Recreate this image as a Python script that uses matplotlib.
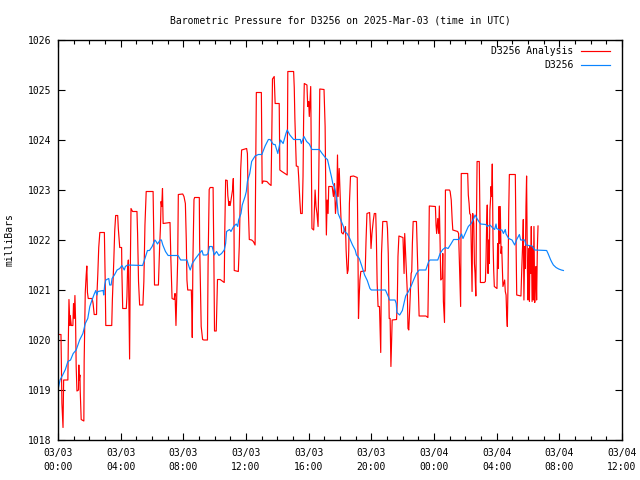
import matplotlib
matplotlib.use('Agg')
from matplotlib import pyplot as plt
import numpy as np

# hours since 2025-03-03 00:00 UTC and pressure (mb)
analysis_hours = [
    0.00, 0.19, 0.21, 0.25, 0.32, 0.36, 0.63, 0.66, 0.70, 0.76, 0.78, 0.85, 0.95, 0.99,
    1.04, 1.08, 1.12, 1.16, 1.21, 1.31, 1.33, 1.35, 1.40, 1.42, 1.48, 1.65, 1.67, 1.74,
    1.80, 1.84, 1.88, 1.93, 2.18, 2.24, 2.31, 2.46, 2.48, 2.54, 2.60, 2.67, 2.96, 3.01,
    3.05, 3.43, 3.47, 3.56, 3.62, 3.68, 3.81, 3.85, 3.94, 4.06, 4.08, 4.13, 4.36, 4.40,
    4.44, 4.49, 4.53, 4.57, 4.61, 4.66, 4.76, 5.04, 5.08, 5.14, 5.21, 5.42, 5.48, 5.55,
    5.63, 6.07, 6.12, 6.16, 6.41, 6.48, 6.54, 6.58, 6.62, 6.67, 6.71, 7.15, 7.20, 7.28,
    7.41, 7.47, 7.53, 7.58, 7.64, 7.68, 7.96, 8.04, 8.13, 8.19, 8.23, 8.28, 8.51, 8.55,
    8.57, 8.61, 8.68, 8.72, 9.02, 9.04, 9.10, 9.14, 9.23, 9.31, 9.54, 9.58, 9.65, 9.71,
    9.90, 9.95, 9.99, 10.10, 10.14, 10.18, 10.35, 10.61, 10.65, 10.70, 10.80, 10.84,
    10.91, 10.95, 10.99, 11.08, 11.14, 11.19, 11.23, 11.25, 11.51, 11.57, 11.62, 11.66,
    11.72, 12.04, 12.09, 12.15, 12.21, 12.36, 12.47, 12.58, 12.62, 12.66, 12.98, 13.03,
    13.11, 13.33, 13.48, 13.60, 13.65, 13.69, 13.80, 13.86, 14.12, 14.16, 14.29, 14.63,
    14.67, 15.04, 15.08, 15.12, 15.21, 15.32, 15.36, 15.44, 15.49, 15.59, 15.64, 15.68,
    15.72, 15.89, 15.94, 16.00, 16.04, 16.13, 16.17, 16.21, 16.32, 16.36, 16.41, 16.47,
    16.53, 16.60, 16.64, 16.71, 16.98, 17.05, 17.09, 17.13, 17.18, 17.24, 17.28, 17.50,
    17.58, 17.65, 17.71, 17.80, 17.84, 17.88, 17.95, 17.99, 18.05, 18.10, 18.20, 18.35,
    18.39, 18.43, 18.47, 18.52, 18.56, 18.60, 18.67, 18.86, 19.10, 19.14, 19.18, 19.23,
    19.27, 19.33, 19.61, 19.66, 19.72, 19.89, 19.94, 19.98, 20.04, 20.13, 20.19, 20.28,
    20.32, 20.37, 20.43, 20.52, 20.56, 20.60, 20.65, 20.73, 20.99, 21.03, 21.08, 21.14,
    21.20, 21.25, 21.29, 21.33, 21.61, 21.66, 21.70, 21.76, 22.02, 22.09, 22.13, 22.19,
    22.24, 22.30, 22.34, 22.39, 22.45, 22.54, 22.58, 22.62, 22.67, 22.88, 22.92, 23.01,
    23.05, 23.48, 23.61, 23.66, 23.70, 24.09, 24.13, 24.17, 24.24, 24.30, 24.34, 24.39,
    24.43, 24.52, 24.56, 24.60, 24.67, 24.71, 24.73, 24.99, 25.03, 25.10, 25.16, 25.20,
    25.51, 25.57, 25.63, 25.70, 25.74, 26.15, 26.19, 26.24, 26.28, 26.34, 26.39, 26.43,
    26.47, 26.54, 26.58, 26.62, 26.67, 26.71, 26.75, 26.89, 26.94, 26.96, 27.21, 27.28,
    27.32, 27.36, 27.40, 27.45, 27.49, 27.53, 27.57, 27.62, 27.64, 27.68, 27.72, 27.77,
    27.81, 27.85, 28.02, 28.06, 28.11, 28.15, 28.19, 28.23, 28.28, 28.32, 28.36, 28.40,
    28.51, 28.55, 28.60, 28.64, 28.68, 28.72, 28.77, 28.81, 29.19, 29.23, 29.28, 29.55,
    29.60, 29.66, 29.70, 29.74, 29.79, 29.83, 29.87, 29.91, 29.96, 30.00, 30.04, 30.09,
    30.13, 30.17, 30.21, 30.26, 30.30, 30.34, 30.38, 30.43, 30.47, 30.51, 30.55, 30.60,
    30.64]
analysis_mb = [
    1020.11, 1020.11, 1019.63, 1018.73, 1018.25, 1019.20, 1019.20, 1020.00, 1020.81,
    1020.29, 1020.49, 1020.29, 1020.29, 1020.73, 1020.43, 1020.89, 1020.43, 1019.47,
    1018.98, 1019.00, 1019.50, 1019.20, 1019.30, 1018.97, 1018.41, 1018.38, 1019.58,
    1020.95, 1021.30, 1021.48, 1020.95, 1020.83, 1020.83, 1020.73, 1020.51, 1020.51,
    1020.87, 1021.31, 1021.85, 1022.15, 1022.15, 1021.23, 1020.29, 1020.29, 1020.80,
    1021.57, 1022.18, 1022.49, 1022.49, 1022.23, 1021.85, 1021.85, 1021.33, 1020.63,
    1020.63, 1020.87, 1021.41, 1021.60, 1020.63, 1019.62, 1021.30, 1022.63, 1022.57,
    1022.57, 1022.13, 1021.17, 1020.70, 1020.70, 1021.17, 1022.30, 1022.97, 1022.97,
    1021.87, 1021.10, 1021.10, 1021.80, 1022.27, 1022.77, 1022.67, 1023.03, 1022.33,
    1022.35, 1021.67, 1020.83, 1020.81, 1020.93, 1020.29, 1020.87, 1021.60, 1022.91,
    1022.92, 1022.87, 1022.73, 1021.98, 1021.20, 1021.00, 1021.00, 1020.53, 1020.05,
    1021.57, 1022.81, 1022.85, 1022.85, 1021.93, 1020.93, 1020.27, 1020.01, 1020.00,
    1020.00, 1021.53, 1023.01, 1023.05, 1023.05, 1021.60, 1020.18, 1020.18, 1020.70,
    1021.21, 1021.21, 1021.15, 1022.27, 1023.20, 1023.19, 1022.89, 1022.69, 1022.77,
    1022.69, 1022.87, 1023.00, 1023.23, 1022.50, 1021.39, 1021.37, 1021.87, 1022.60,
    1023.40, 1023.80, 1023.83, 1023.73, 1022.60, 1022.01, 1022.00, 1021.97, 1021.90,
    1023.43, 1024.95, 1024.95, 1023.13, 1023.18, 1023.17, 1023.12, 1023.09, 1024.17,
    1025.22, 1025.27, 1024.73, 1024.73, 1023.40, 1023.37, 1023.30, 1025.37, 1025.37,
    1025.05, 1024.43, 1023.48, 1023.47, 1023.27, 1022.77, 1022.53, 1022.53, 1023.27,
    1024.47, 1025.13, 1025.10, 1024.67, 1024.77, 1024.47, 1025.07, 1023.67, 1022.23,
    1022.20, 1022.53, 1023.00, 1022.67, 1022.53, 1022.27, 1023.13, 1025.02, 1025.01,
    1024.27, 1023.07, 1022.10, 1022.80, 1022.53, 1023.07, 1023.07, 1022.87, 1023.13,
    1022.53, 1022.87, 1023.70, 1022.87, 1023.43, 1023.07, 1022.53, 1022.15, 1022.12,
    1022.27, 1021.80, 1021.53, 1021.33, 1021.40, 1021.80, 1022.73, 1023.27, 1023.28,
    1023.25, 1022.00, 1020.43, 1020.90, 1021.20, 1021.37, 1021.38, 1021.97, 1022.53,
    1022.55, 1022.20, 1021.83, 1022.13, 1022.40, 1022.53, 1022.53, 1022.07, 1021.15,
    1020.67, 1020.67, 1020.23, 1019.75, 1021.73, 1022.37, 1022.37, 1022.23, 1021.73,
    1020.43, 1020.43, 1019.47, 1019.93, 1020.40, 1020.41, 1020.80, 1021.67, 1022.08,
    1022.05, 1021.33, 1022.13, 1021.70, 1021.33, 1020.93, 1020.23, 1020.20, 1020.63,
    1021.33, 1021.37, 1021.93, 1022.37, 1022.37, 1021.93, 1020.93, 1020.48, 1020.48,
    1020.45, 1021.47, 1022.68, 1022.67, 1022.30, 1022.13, 1022.43, 1022.13, 1022.68,
    1021.93, 1021.20, 1021.23, 1021.73, 1020.77, 1020.35, 1021.80, 1023.00, 1023.00,
    1022.97, 1022.80, 1022.40, 1022.20, 1022.17, 1022.13, 1021.43, 1020.67, 1023.33,
    1023.33, 1022.90, 1022.73, 1022.53, 1022.50, 1021.60, 1020.97, 1022.53, 1022.33,
    1021.53, 1021.33, 1020.88, 1022.40, 1023.57, 1023.57, 1022.27, 1021.15, 1021.15,
    1021.17, 1021.60, 1022.30, 1022.70, 1021.33, 1022.00, 1021.53, 1022.60, 1022.87,
    1023.07, 1022.87, 1023.52, 1021.93, 1021.40, 1021.07, 1021.03, 1021.93, 1021.43,
    1022.67, 1021.93, 1022.67, 1021.73, 1021.87, 1021.47, 1021.07, 1021.20, 1020.97,
    1020.90, 1020.50, 1020.27, 1021.03, 1022.57, 1023.31, 1023.31, 1022.13, 1020.90,
    1020.88, 1021.40, 1021.93, 1022.41, 1020.80, 1021.87, 1021.43, 1022.67, 1023.28,
    1021.47, 1020.80, 1021.83, 1020.77, 1021.88, 1021.33, 1022.27, 1020.77, 1021.87,
    1020.80, 1022.27, 1020.75, 1021.33, 1021.47, 1020.80, 1021.87, 1022.28]

buoy_hours = [
    0.00, 0.13, 0.30, 0.47, 0.63, 0.80, 0.97, 1.16, 1.38, 1.59, 1.74, 1.90, 2.03, 2.16,
    2.29, 2.41, 2.48, 2.54, 2.88, 2.92, 2.98, 3.05, 3.24, 3.30, 3.39, 3.45, 3.60, 3.77,
    3.94, 4.08, 4.15, 4.23, 4.30, 4.44, 5.40, 5.52, 5.71, 5.84, 6.01, 6.18, 6.26, 6.35,
    6.52, 6.60, 6.69, 6.86, 7.03, 7.66, 7.83, 8.23, 8.38, 8.44, 8.57, 8.78, 9.02, 9.19,
    9.27, 9.48, 9.58, 9.67, 9.84, 9.97, 10.12, 10.27, 10.44, 10.61, 10.70, 10.76, 10.95,
    11.04, 11.21, 11.38, 11.47, 11.53, 11.68, 11.76, 11.94, 12.02, 12.09, 12.24, 12.36,
    12.58, 12.79, 13.01, 13.22, 13.43, 13.54, 13.75, 13.86, 14.03, 14.20, 14.37, 14.55,
    14.63, 14.80, 15.04, 15.47, 15.53, 15.70, 15.87, 16.04, 16.21, 16.68, 16.86, 17.11,
    17.20, 17.28, 17.37, 17.45, 17.54, 17.63, 17.71, 17.80, 17.88, 18.05, 18.22, 18.28,
    18.45, 18.62, 18.80, 18.97, 19.05, 19.23, 19.40, 19.57, 19.74, 19.91, 20.00, 20.90,
    21.08, 21.16, 21.51, 21.59, 21.63, 21.81, 21.98, 22.06, 22.19, 22.37, 22.54, 22.71,
    22.88, 23.05, 23.48, 23.66, 23.74, 24.24, 24.39, 24.56, 24.73, 24.90, 25.08, 25.25,
    25.59, 25.76, 25.85, 26.02, 26.19, 26.37, 26.54, 26.62, 26.80, 26.97, 27.31, 27.40,
    27.57, 27.79, 27.87, 27.96, 28.00, 28.17, 28.34, 28.43, 28.55, 28.60, 28.77, 28.98,
    29.15, 29.28, 29.45, 29.53, 29.79, 29.87, 30.26, 30.43, 31.19, 31.28, 31.36, 31.45,
    31.53, 31.62, 31.79, 31.96, 32.13, 32.26]
buoy_mb = [
    1019.00, 1019.20, 1019.30, 1019.41, 1019.57, 1019.60, 1019.73, 1019.80, 1020.00,
    1020.13, 1020.33, 1020.43, 1020.67, 1020.79, 1020.90, 1020.99, 1020.90, 1020.97,
    1020.99, 1020.90, 1021.10, 1021.20, 1021.23, 1021.10, 1021.10, 1021.23, 1021.30,
    1021.40, 1021.43, 1021.49, 1021.45, 1021.40, 1021.47, 1021.50, 1021.49, 1021.60,
    1021.79, 1021.79, 1021.87, 1022.00, 1021.97, 1021.92, 1022.00, 1022.00, 1021.90,
    1021.77, 1021.69, 1021.69, 1021.60, 1021.60, 1021.45, 1021.40, 1021.53, 1021.63,
    1021.73, 1021.79, 1021.70, 1021.70, 1021.73, 1021.87, 1021.87, 1021.70, 1021.77,
    1021.69, 1021.73, 1021.80, 1021.93, 1022.17, 1022.21, 1022.17, 1022.27, 1022.32,
    1022.27, 1022.40, 1022.53, 1022.70, 1022.87, 1022.97, 1023.17, 1023.33, 1023.57,
    1023.68, 1023.71, 1023.71, 1023.88, 1024.01, 1024.01, 1023.91, 1023.91, 1023.73,
    1024.00, 1023.93, 1024.13, 1024.20, 1024.10, 1024.01, 1024.01, 1023.93, 1024.07,
    1023.97, 1023.92, 1023.81, 1023.81, 1023.73, 1023.63, 1023.61, 1023.50, 1023.37,
    1023.27, 1023.13, 1023.07, 1022.97, 1022.80, 1022.53, 1022.40, 1022.27, 1022.17,
    1022.13, 1022.03, 1021.90, 1021.80, 1021.70, 1021.63, 1021.47, 1021.30, 1021.19,
    1021.03, 1021.00, 1021.00, 1020.87, 1020.80, 1020.80, 1020.73, 1020.55, 1020.50,
    1020.59, 1020.70, 1020.88, 1020.97, 1021.08, 1021.21, 1021.33, 1021.40, 1021.40,
    1021.57, 1021.60, 1021.60, 1021.73, 1021.81, 1021.85, 1021.83, 1021.92, 1022.01,
    1022.01, 1022.12, 1022.03, 1022.15, 1022.27, 1022.33, 1022.43, 1022.50, 1022.40,
    1022.32, 1022.31, 1022.27, 1022.30, 1022.23, 1022.21, 1022.32, 1022.23, 1022.20,
    1022.20, 1022.13, 1022.21, 1022.12, 1022.03, 1022.00, 1021.90, 1022.01, 1022.11,
    1022.00, 1022.00, 1021.90, 1021.88, 1021.80, 1021.79, 1021.73, 1021.67, 1021.60,
    1021.55, 1021.50, 1021.45, 1021.42, 1021.40, 1021.39]

tick_hours = [0, 4, 8, 12, 16, 20, 24, 28, 32, 36]
tick_labels = ['03/03\n00:00', '03/03\n04:00', '03/03\n08:00', '03/03\n12:00',
               '03/03\n16:00', '03/03\n20:00', '03/04\n00:00', '03/04\n04:00',
               '03/04\n08:00', '03/04\n12:00']

plt.rcParams['font.family'] = 'DejaVu Sans Mono'
plt.rcParams['font.size'] = 7

fig = plt.figure(figsize=(6.4, 4.8), dpi=100)
ax = fig.add_axes([58 / 640, 40 / 480, 564 / 640, 400 / 480])

ax.plot(analysis_hours, analysis_mb, color='#ff0000', lw=0.85, label='D3256 Analysis')
ax.plot(buoy_hours, buoy_mb, color='#0a84ff', lw=0.85, label='D3256')

ax.set_xlim(0, 36)
ax.set_ylim(1018, 1026)
ax.set_xticks(tick_hours)
ax.set_xticklabels(tick_labels, linespacing=1.5)
ax.set_xticks(np.arange(0, 37, 1), minor=True)
ax.set_yticks(np.arange(1018, 1027, 1))
ax.tick_params(which='both', direction='in', top=True, right=True, width=0.8)
ax.tick_params(which='major', length=5)
ax.tick_params(axis='x', which='minor', length=3)
ax.tick_params(axis='x', which='major', pad=6)
ax.tick_params(axis='y', pad=4.5)
for spine in ax.spines.values():
    spine.set_linewidth(1.0)

ax.set_ylabel('milliBars')
ax.yaxis.set_label_coords(-43 / 564, 0.5)
ax.set_title('Barometric Pressure for D3256 on 2025-Mar-03 (time in UTC)',
             fontsize=7, pad=12)

leg = ax.legend(loc='upper right', bbox_to_anchor=((610 - 58) / 564, 1 - 6 / 400),
                frameon=False, markerfirst=False, handlelength=3.0,
                handletextpad=0.75, borderaxespad=0, borderpad=0,
                labelspacing=0.45, fontsize=7)
# right-align the entries, gnuplot style
for col in leg._legend_handle_box.get_children():
    col.align = 'right'

fig.savefig('out.png', dpi=100)
